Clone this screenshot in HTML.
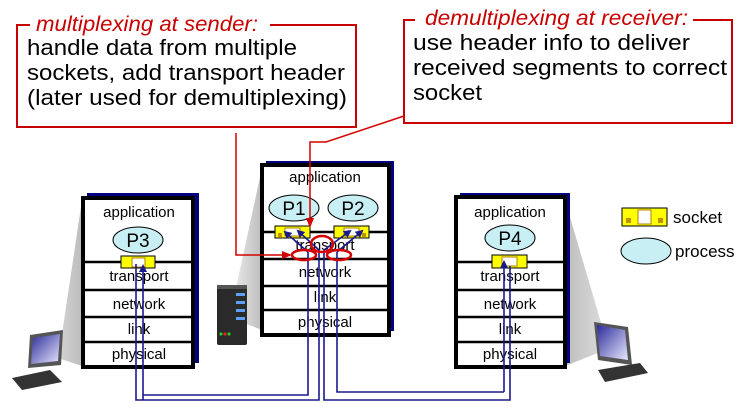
<!DOCTYPE html>
<html><head><meta charset="utf-8"><style>
html,body{margin:0;padding:0;background:#fff;}
svg{display:block;}
text{font-family:"Liberation Sans",sans-serif;}
</style></head><body>
<svg width="745" height="418" viewBox="0 0 745 418" xmlns="http://www.w3.org/2000/svg">
<defs>
<linearGradient id="cone" x1="0" y1="0" x2="1" y2="0"><stop offset="0" stop-color="#e6e6e6"/><stop offset="1" stop-color="#bdbdbd"/></linearGradient>
<linearGradient id="cone2" x1="0" y1="0" x2="1" y2="0"><stop offset="0" stop-color="#bdbdbd"/><stop offset="1" stop-color="#e6e6e6"/></linearGradient>
<linearGradient id="scr" x1="0" y1="0" x2="1" y2="1"><stop offset="0" stop-color="#2a2a9a"/><stop offset="1" stop-color="#e8e8ff"/></linearGradient>
<marker id="ba" markerWidth="8" markerHeight="8" refX="6" refY="4" orient="auto" markerUnits="userSpaceOnUse"><path d="M0,0 L8,4 L0,8 z" fill="#1a1a8c"/></marker>
<marker id="ra" markerWidth="10" markerHeight="10" refX="8" refY="5" orient="auto" markerUnits="userSpaceOnUse"><path d="M0,1 L10,5 L0,9 z" fill="#d40000"/></marker>
</defs>

<polygon points="82,200 82,366 40,352 62,334" fill="url(#cone)"/>
<polygon points="262,168 262,330 236,320 236,288" fill="url(#cone)"/>
<polygon points="565,200 565,366 618,345 602,326" fill="url(#cone2)"/>

<rect x="17" y="25" width="339" height="102" fill="#fff" stroke="#c80000" stroke-width="2"/>
<rect x="30" y="12" width="240" height="24" fill="#fff"/>
<text x="36" y="31" font-size="21" font-style="italic" fill="#c80000" textLength="222" lengthAdjust="spacingAndGlyphs">multiplexing at sender:</text>
<text x="27" y="55" font-size="22" fill="#000" textLength="270" lengthAdjust="spacingAndGlyphs">handle data from multiple</text>
<text x="27" y="80" font-size="22" fill="#000" textLength="318" lengthAdjust="spacingAndGlyphs">sockets, add transport header</text>
<text x="27" y="105" font-size="22" fill="#000" textLength="320" lengthAdjust="spacingAndGlyphs">(later used for demultiplexing)</text>

<rect x="404" y="20" width="328" height="103" fill="#fff" stroke="#c80000" stroke-width="2"/>
<rect x="415" y="6" width="278" height="24" fill="#fff"/>
<text x="425" y="25" font-size="21" font-style="italic" fill="#c80000" textLength="263" lengthAdjust="spacingAndGlyphs">demultiplexing at receiver:</text>
<text x="413" y="50" font-size="22" fill="#000" textLength="277" lengthAdjust="spacingAndGlyphs">use header info to deliver</text>
<text x="413" y="75" font-size="22" fill="#000" textLength="314" lengthAdjust="spacingAndGlyphs">received segments to correct</text>
<text x="413" y="100" font-size="22" fill="#000" textLength="69" lengthAdjust="spacingAndGlyphs">socket</text>

<g>
<rect x="87" y="193" width="112" height="170" fill="#000080"/>
<rect x="266" y="161" width="128" height="170" fill="#000080"/>
<rect x="460" y="193" width="110" height="170" fill="#000080"/>
</g>
<g stroke="#000" stroke-width="4" fill="#fff">
<rect x="83" y="198" width="110" height="169"/>
<rect x="262" y="165" width="127" height="170"/>
<rect x="456" y="197" width="109" height="170"/>
</g>
<g stroke="#000" stroke-width="2.5">
<line x1="83" y1="262" x2="193" y2="262"/><line x1="83" y1="290" x2="193" y2="290"/><line x1="83" y1="317" x2="193" y2="317"/><line x1="83" y1="342" x2="193" y2="342"/>
<line x1="262" y1="232" x2="389" y2="232"/><line x1="262" y1="259" x2="389" y2="259"/><line x1="262" y1="286" x2="389" y2="286"/><line x1="262" y1="310" x2="389" y2="310"/>
<line x1="456" y1="262" x2="565" y2="262"/><line x1="456" y1="290" x2="565" y2="290"/><line x1="456" y1="317" x2="565" y2="317"/><line x1="456" y1="342" x2="565" y2="342"/>
</g>
<g font-size="15" fill="#000" text-anchor="middle">
<text x="139" y="217">application</text><text x="139" y="281">transport</text><text x="139" y="309">network</text><text x="139" y="334">link</text><text x="139" y="359">physical</text>
<text x="325" y="182">application</text><text x="325" y="250">transport</text><text x="325" y="277">network</text><text x="325" y="302">link</text><text x="325" y="327">physical</text>
<text x="510" y="217">application</text><text x="510" y="281">transport</text><text x="510" y="309">network</text><text x="510" y="334">link</text><text x="510" y="359">physical</text>
</g>

<g fill="#c8f0f4" stroke="#000" stroke-width="1">
<ellipse cx="138" cy="240" rx="25" ry="13"/>
<ellipse cx="294" cy="208" rx="25" ry="13"/>
<ellipse cx="353" cy="208" rx="25" ry="13"/>
<ellipse cx="510" cy="238" rx="25" ry="13"/>
<ellipse cx="646" cy="251" rx="25" ry="13"/>
</g>
<g font-size="19" fill="#000" text-anchor="middle">
<text x="138" y="247">P3</text><text x="294" y="215">P1</text><text x="353" y="215">P2</text><text x="510" y="245">P4</text>
</g>

<g>
<g transform="translate(121,256)"><rect width="34" height="12" fill="#ffff00" stroke="#000" stroke-width="1"/><rect x="11" y="2" width="13" height="9" fill="#fff" stroke="#b08000"/></g>
<g transform="translate(275,226)"><rect width="35" height="12" fill="#ffff00" stroke="#000" stroke-width="1"/><rect x="3" y="7" width="4" height="4" fill="#c09000"/><rect x="10" y="2" width="15" height="8" fill="#fff" stroke="#b08000"/></g>
<g transform="translate(334,226)"><rect width="35" height="12" fill="#ffff00" stroke="#000" stroke-width="1"/><rect x="28" y="7" width="4" height="4" fill="#c09000"/><rect x="10" y="2" width="15" height="8" fill="#fff" stroke="#b08000"/></g>
<g transform="translate(492,255)"><rect width="35" height="13" fill="#ffff00" stroke="#000" stroke-width="1"/><rect x="10" y="2" width="15" height="9" fill="#fff" stroke="#b08000"/></g>
<g transform="translate(622,208)"><rect width="45" height="18" fill="#ffff00" stroke="#000" stroke-width="1"/><rect x="4" y="10" width="5" height="5" fill="#c09000"/><rect x="36" y="10" width="5" height="5" fill="#c09000"/><rect x="16" y="2" width="13" height="14" fill="#fff" stroke="#b08000"/></g>
</g>
<text x="673" y="223" font-size="17" fill="#000">socket</text>
<text x="675" y="257" font-size="17" fill="#000">process</text>

<g fill="none" stroke="#1a1a8c" stroke-width="1.6">
<polyline points="136,264 136,400 319,400 319,250" />
<polyline points="143,400 143,395 308,395 308,252"/>
<line x1="143" y1="395" x2="143" y2="266" marker-end="url(#ba)"/>
<polyline points="324,250 324,400 510,400 510,266"/>
<polyline points="337,252 337,392 504,392"/>
<line x1="504" y1="392" x2="504" y2="262" marker-end="url(#ba)"/>
<line x1="308" y1="252" x2="285" y2="232" marker-end="url(#ba)"/>
<line x1="319" y1="250" x2="298" y2="231" marker-end="url(#ba)"/>
<line x1="324" y1="250" x2="350" y2="231" marker-end="url(#ba)"/>
<line x1="337" y1="252" x2="362" y2="231" marker-end="url(#ba)"/>
</g>

<g fill="none" stroke="#d40000" stroke-width="2.5">
<ellipse cx="322" cy="244" rx="11" ry="8"/>
<ellipse cx="304" cy="255" rx="12" ry="5"/>
<ellipse cx="339" cy="255" rx="12" ry="5"/>
</g>
<g fill="none" stroke="#d40000" stroke-width="1.5">
<polyline points="236,133 236,255 290,255" marker-end="url(#ra)"/>
<polyline points="404,116 326,142 310,142 310,226" marker-end="url(#ra)"/>
</g>

<g>
<rect x="217" y="285" width="30" height="60" rx="2" fill="#2a2a2a"/>
<rect x="217" y="285" width="30" height="4" fill="#555"/>
<rect x="236" y="293" width="9" height="3" fill="#5fa0ff"/>
<rect x="236" y="301" width="9" height="3" fill="#5fa0ff"/>
<rect x="236" y="309" width="9" height="3" fill="#5fa0ff"/>
<rect x="236" y="317" width="9" height="3" fill="#5fa0ff"/>
<circle cx="221" cy="334" r="1.6" fill="#2c2"/><circle cx="225" cy="334" r="1.6" fill="#e22"/><circle cx="229" cy="334" r="1.6" fill="#2c2"/>
</g>
<g>
<polygon points="30,335 63,330 61,365 28,368" fill="#555"/>
<polygon points="33,338 60,334 58,361 31,364" fill="url(#scr)"/>
<polygon points="12,378 50,370 62,382 22,390" fill="#333"/>
</g>
<g>
<polygon points="594,322 628,327 632,365 598,360" fill="#555"/>
<polygon points="597,325 625,330 628,360 600,356" fill="url(#scr)"/>
<polygon points="598,370 640,363 648,373 605,382" fill="#333"/>
</g>
</svg>
</body></html>
